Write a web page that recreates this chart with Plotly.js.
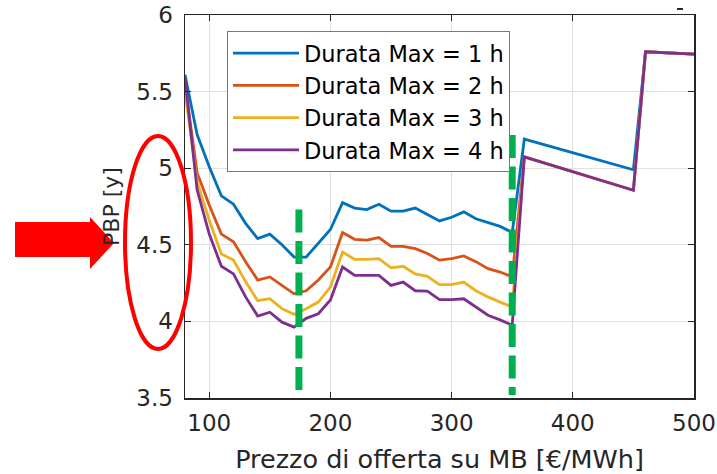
<!DOCTYPE html>
<html>
<head>
<meta charset="utf-8">
<script src="https://cdn.plot.ly/plotly-3.0.1.min.js"></script>
<style>
html, body { margin: 0; padding: 0; background: #ffffff; }
#chart { width: 717px; height: 474px; }
</style>
</head>
<body>
<div id="chart"></div>
<script>
// ---- Data ----
const prezzo = [80, 90, 100, 110, 120, 130, 140, 150, 160, 170, 180, 190, 200, 210, 220, 230, 240, 250, 260, 270, 280, 290, 300, 310, 320, 330, 340, 350, 360, 450, 460, 500];

const pbp1h = [5.61, 5.22, 5.01, 4.82, 4.765, 4.64, 4.54, 4.57, 4.50, 4.42, 4.42, 4.51, 4.60, 4.775, 4.74, 4.73, 4.765, 4.72, 4.72, 4.74, 4.70, 4.656, 4.68, 4.715, 4.67, 4.643, 4.62, 4.58, 5.19, 4.99, 5.76, 5.745];
const pbp2h = [5.55, 4.97, 4.76, 4.57, 4.52, 4.39, 4.27, 4.29, 4.235, 4.18, 4.20, 4.27, 4.355, 4.58, 4.536, 4.53, 4.547, 4.49, 4.49, 4.475, 4.443, 4.40, 4.41, 4.427, 4.39, 4.344, 4.322, 4.29, 5.074, 4.856, 5.76, 5.745];
const pbp3h = [5.50, 4.91, 4.66, 4.44, 4.40, 4.26, 4.135, 4.148, 4.083, 4.046, 4.083, 4.126, 4.224, 4.453, 4.405, 4.405, 4.41, 4.35, 4.36, 4.31, 4.294, 4.24, 4.24, 4.257, 4.20, 4.16, 4.126, 4.094, 5.074, 4.856, 5.76, 5.745];
const pbp4h = [5.586, 4.86, 4.57, 4.36, 4.31, 4.16, 4.035, 4.06, 3.995, 3.963, 4.02, 4.05, 4.14, 4.355, 4.30, 4.30, 4.30, 4.235, 4.257, 4.20, 4.198, 4.142, 4.142, 4.148, 4.094, 4.04, 4.01, 3.975, 5.074, 4.856, 5.76, 5.745];

const seriesNames = ["Durata Max = 1 h", "Durata Max = 2 h", "Durata Max = 3 h", "Durata Max = 4 h"];
const seriesColors = ["#0072BD", "#D95319", "#EDB120", "#7E2F8E"];

// green dashed markers (vertical reference lines)
const soglia1X = [174, 174];
const soglia1Y = [4.73, 3.52];
const soglia2X = [350, 350];
const soglia2Y = [5.216, 3.52];

const xTicks = [100, 200, 300, 400, 500];
const yTicks = [3.5, 4, 4.5, 5, 5.5, 6];

// ---- Plot geometry helpers (pixel -> paper) for decorative overlays ----
const M = { l: 185, r: 23, t: 15, b: 76 };
const W = 717, H = 474;
const pw = W - M.l - M.r, ph = H - M.t - M.b;
const px = v => (v - M.l) / pw;
const py = v => (H - M.b - v) / ph;

const FONT = "DejaVu Sans, Arial, sans-serif";

const allSeries = [pbp1h, pbp2h, pbp3h, pbp4h];
const traces = allSeries.map((ys, i) => ({
  type: "scatter",
  mode: "lines",
  x: prezzo,
  y: ys,
  name: seriesNames[i],
  legendgroup: "g" + i,
  line: { color: seriesColors[i], width: 2.8 },
  hoverinfo: "skip"
}));

[[soglia1X, soglia1Y], [soglia2X, soglia2Y]].forEach(([xs, ys]) => {
  traces.push({
    type: "scatter",
    mode: "lines",
    x: xs,
    y: ys,
    showlegend: false,
    line: { color: "#00B050", width: 7, dash: "23px,8.5px" },
    hoverinfo: "skip"
  });
});

const arrowPts = [[15, 222], [90, 222], [90, 217], [114, 243], [90, 269], [90, 257], [15, 257]];
const arrowPath = "M" + arrowPts.map(p => px(p[0]) + "," + py(p[1])).join(" L") + " Z";

const layout = {
  width: W,
  height: H,
  margin: M,
  paper_bgcolor: "#ffffff",
  plot_bgcolor: "#ffffff",
  font: { family: FONT, color: "#262626", size: 22 },
  showlegend: true,
  legend: {
    x: px(227), y: py(31), xanchor: "left", yanchor: "top",
    bgcolor: "#ffffff",
    bordercolor: "#7a7a7a",
    borderwidth: 1,
    font: { family: FONT, size: 22.5, color: "#000000" },
    itemwidth: 66,
    tracegroupgap: 3,
    traceorder: "normal"
  },
  xaxis: {
    range: [80, 500],
    tickvals: xTicks,
    ticktext: xTicks.map(String),
    ticks: "inside",
    ticklen: 6,
    tickwidth: 1.2,
    tickcolor: "#262626",
    showline: true,
    linecolor: "#262626",
    linewidth: 1.5,
    mirror: "ticks",
    showgrid: true,
    gridcolor: "#dfdfdf",
    gridwidth: 1,
    zeroline: false,
    ticklabelstandoff: 4,
    tickfont: { family: FONT, size: 23, color: "#262626" },
    title: { text: "Prezzo di offerta su MB [€/MWh]", font: { family: FONT, size: 25.5, color: "#262626" }, standoff: 20 }
  },
  yaxis: {
    range: [3.5, 6],
    tickvals: yTicks,
    ticktext: yTicks.map(String),
    ticks: "inside",
    ticklen: 6,
    tickwidth: 1.2,
    tickcolor: "#262626",
    showline: true,
    linecolor: "#262626",
    linewidth: 1.5,
    mirror: "ticks",
    showgrid: true,
    gridcolor: "#dfdfdf",
    gridwidth: 1,
    zeroline: false,
    ticklabelstandoff: 6,
    tickfont: { family: FONT, size: 23, color: "#262626" },
    title: { text: "PBP [y]", font: { family: FONT, size: 22, color: "#262626" }, standoff: 10 }
  },
  shapes: [
    {
      type: "circle", xref: "paper", yref: "paper",
      x0: px(125), x1: px(191), y0: py(349), y1: py(136),
      line: { color: "#ff0000", width: 4 },
      fillcolor: "rgba(0,0,0,0)", layer: "above"
    },
    {
      type: "path", xref: "paper", yref: "paper",
      path: arrowPath,
      fillcolor: "#ff0000",
      line: { width: 0 },
      layer: "above"
    },
    {
      type: "line", xref: "paper", yref: "paper",
      x0: px(677), x1: px(683), y0: py(9), y1: py(9),
      line: { color: "#262626", width: 2 }
    }
  ]
};

Plotly.newPlot("chart", traces, layout, { displayModeBar: false, staticPlot: true });
</script>
</body>
</html>
